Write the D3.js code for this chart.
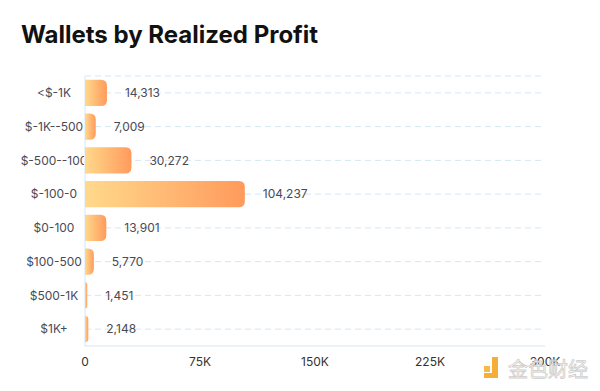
<!DOCTYPE html>
<html><head><meta charset="utf-8">
<script src="https://cdn.jsdelivr.net/npm/d3@7"></script>
<style>body{margin:0;background:#fff;}svg{display:block;}</style>
</head><body><svg id="c" width="600" height="391"></svg>
<script>
const categories = ["<$-1K","$-1K--500","$-500--100","$-100-0","$0-100","$100-500","$500-1K","$1K+"];
const values = [14313, 7009, 30272, 104237, 13901, 5770, 1451, 2148];
const xTicks = [0, 75000, 150000, 225000, 300000];
const xTickLabels = ["0","75K","150K","225K","300K"];

const svg = d3.select("#c");
const m = {l:85, r:55, t:76, b:45};
const W = 600, H = 391;
const x = d3.scaleLinear().domain([0,300000]).range([m.l, W-m.r]);
const y = d3.scaleBand().domain(categories).range([m.t, H-m.b]).paddingInner(0.22).paddingOuter(0.11);

const defs = svg.append("defs");
const g = defs.append("linearGradient").attr("id","bg").attr("x1","0").attr("x2","1").attr("y1","0").attr("y2","0");
g.append("stop").attr("offset","0").attr("stop-color","#FFD98C");
g.append("stop").attr("offset","1").attr("stop-color","#FF9A5C");
defs.append("clipPath").attr("id","lc").append("rect").attr("x",0).attr("y",0).attr("width",84).attr("height",H);

svg.append("text").attr("x",21).attr("y",43).text("Wallets by Realized Profit")
  .attr("font-family","Inter, sans-serif").attr("font-weight",700).attr("font-size",24).attr("fill","#111");

// gridlines
const gl = svg.append("g");
gl.append("line").attr("x1",m.l).attr("x2",W-m.r).attr("y1",m.t).attr("y2",m.t)
  .attr("stroke","#d5e7f3").attr("stroke-dasharray","6,4");
categories.forEach(c=>{
  const cy = y(c)+y.bandwidth()/2;
  gl.append("line").attr("x1",m.l).attr("x2",W-m.r).attr("y1",cy).attr("y2",cy)
    .attr("stroke","#d5e7f3").attr("stroke-dasharray","6,4");
});

// axes lines
svg.append("line").attr("x1",m.l).attr("x2",m.l).attr("y1",m.t).attr("y2",H-m.b).attr("stroke","#d5e7f3");
svg.append("line").attr("x1",m.l).attr("x2",W-m.r).attr("y1",H-m.b).attr("y2",H-m.b).attr("stroke","#d5e7f3");

// bars
const r = 6;
function barPath(x0, x1, y0, h){
  const w = x1-x0;
  const rr = Math.min(r, w, h/2);
  return `M${x0},${y0}H${x1-rr}Q${x1},${y0} ${x1},${y0+rr}V${y0+h-rr}Q${x1},${y0+h} ${x1-rr},${y0+h}H${x0}Z`;
}
svg.append("g").selectAll("path").data(values).join("path")
  .attr("d",(d,i)=>barPath(x(0), x(d), y(categories[i]), y.bandwidth()))
  .attr("fill","url(#bg)");

// value labels
svg.append("g").selectAll("text").data(values).join("text")
  .attr("x",d=>x(d)+18).attr("y",(d,i)=>y(categories[i])+y.bandwidth()/2)
  .attr("dy","0.35em").text(d=>d3.format(",")(d))
  .attr("font-family","Inter, sans-serif").attr("font-size",12).attr("fill","#4a4a55");

// y labels
svg.append("g").attr("clip-path","url(#lc)").selectAll("text").data(categories).join("text")
  .attr("x",54).attr("y",d=>y(d)+y.bandwidth()/2).attr("dy","0.35em").attr("text-anchor","middle")
  .text(d=>d).attr("font-family","Inter, sans-serif").attr("font-size",12).attr("fill","#4a4a55");

// x labels
svg.append("g").selectAll("text").data(xTicks).join("text")
  .attr("x",d=>x(d)).attr("y",H-m.b+16).attr("dy","0.35em").attr("text-anchor","middle")
  .text((d,i)=>xTickLabels[i]).attr("font-family","Inter, sans-serif").attr("font-size",12).attr("fill","#333");

// watermark
const wm = svg.append("g").attr("opacity",0.9);
wm.append("rect").attr("x",484).attr("y",366).attr("width",6).attr("height",6).attr("fill","#F5B335");
wm.append("path").attr("d","M492,357h6v21h-14v-5h8z").attr("fill","#F5A623");
wm.append("text").attr("x",508).attr("y",377).text("金色财经").attr("font-family","Noto Sans CJK SC").attr("font-size",20)
  .attr("fill","#fff").attr("stroke","#c8c8c8").attr("stroke-width",0.8);
</script></body></html>
